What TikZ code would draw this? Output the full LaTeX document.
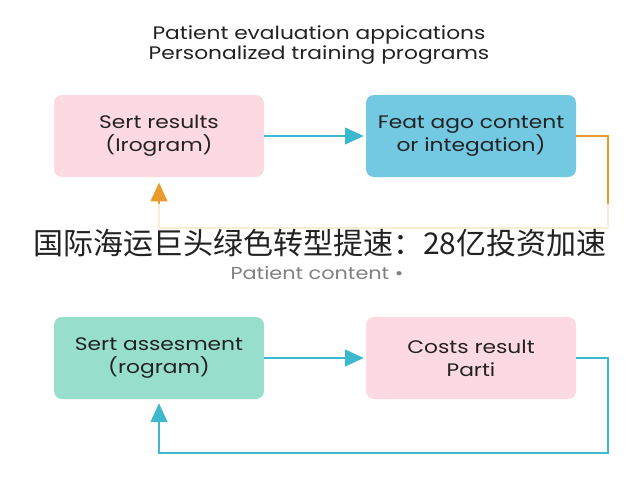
\documentclass[tikz,border=0pt]{standalone}
\usepackage{fontspec}
\setmainfont[FakeStretch=1.2]{Poppins}
\newfontfamily\cjk{Noto Sans CJK SC}
\usetikzlibrary{arrows.meta}
\definecolor{pinkbox}{HTML}{FDD9E2}
\definecolor{bluebox}{HTML}{73C8E2}
\definecolor{tealbox}{HTML}{98DECD}
\definecolor{lineblue}{HTML}{3DB8CE}
\definecolor{lineorange}{HTML}{E99B2D}
\definecolor{textdark}{HTML}{222222}
\begin{document}
\begin{tikzpicture}[x=0.75pt,y=-0.75pt,
  box/.style={rounded corners=6pt, minimum width=157.5pt, minimum height=61.5pt,
    align=center, inner sep=0pt, font=\fontsize{13.6}{17.25}\selectfont, text=textdark},
  conn/.style={line width=1.4pt, -{Triangle[length=14pt,width=12.5pt]}},
  title/.style={font=\fontsize{13.6}{15.5}\selectfont, text=textdark, align=center}]
\useasboundingbox[fill=white] (0,0) rectangle (640,480);
\node[title] (t1) at (319,45) {Patient evaluation appications\\Personalized training programs};
\node[box, fill=pinkbox] (b1) at (159,136) {Sert results\\(Irogram)};
\node[box, fill=bluebox] (b2) at (471,136) {Feat ago content\\or integation)};
\node[box, fill=tealbox] (b3) at (159,358) {Sert assesment\\(rogram)};
\node[box, fill=pinkbox] (b4) at (471,358) {Costs result\\Parti};
\coordinate (o1) at (608,136);
\coordinate (o2) at (608,228);
\coordinate (o3) at (159,228);
\coordinate (u1) at (608,358);
\coordinate (u2) at (608,453);
\coordinate (u3) at (159,453);
\draw[conn, draw=lineblue, shorten >=1.5pt] (b1.east) -- (b2.west);
\draw[conn, draw=lineorange, shorten >=4pt] (b2.east) -- (o1) -- (o2) -- (o3) -- (b1.south);
\draw[conn, draw=lineblue, shorten >=1.5pt] (b3.east) -- (b4.west);
\draw[conn, draw=lineblue, shorten >=3pt] (b4.east) -- (u1) -- (u2) -- (u3) -- (b3.south);
\fill[white, opacity=0.8] (0,204) rectangle (640,262);
\node[font=\cjk\fontsize{22.5}{24}\selectfont, text=textdark] (zh) at (320,243) {国际海运巨头绿色转型提速：28亿投资加速};
\node[font=\fontsize{13}{14}\selectfont, text=black!50] (pc) at (317,273) {Patient content •};
\end{tikzpicture}
\end{document}
